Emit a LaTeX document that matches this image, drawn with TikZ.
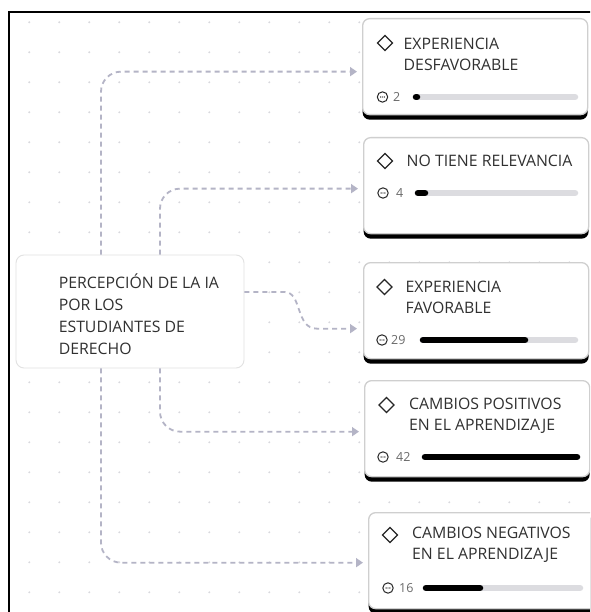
\documentclass[tikz,border=0pt]{standalone}
\usepackage{fontspec}
\setmainfont{Open Sans}
\usetikzlibrary{arrows.meta,calc,shadows}
\definecolor{connc}{HTML}{B4B4C6}
\definecolor{dotc}{HTML}{D9D9DE}
\definecolor{cardborder}{HTML}{CFCFCF}
\definecolor{rootborder}{HTML}{E2E2E2}
\definecolor{txtc}{HTML}{303030}
\definecolor{numc}{HTML}{6A6A6A}
\definecolor{trackc}{HTML}{DCDCE0}
\newcommand\carddiamond[2]{\draw[line width=1.3pt,color=black!85] (#1-7.5,#2) -- (#1,#2-7.5) -- (#1+7.5,#2) -- (#1,#2+7.5) -- cycle;}
\newcommand\progicon[2]{\draw[line width=1pt,color=black!85] (#1,#2) circle (5.2);
  \fill[black!85] (#1-1.9,#2) circle (0.7) (#1,#2) circle (0.7) (#1+1.9,#2) circle (0.7);}
\newcommand\progbar[4]{\draw[line width=6.5pt,line cap=round,color=trackc] (#1,#4) -- (#2,#4);
  \draw[line width=6.5pt,line cap=round,color=black] (#1,#4) -- (#3,#4);}
\begin{document}
\begin{tikzpicture}[x=1pt,y=-1pt,
  cardbox/.style={draw=cardborder,line width=1.3pt,fill=white,rounded corners=7pt,
    minimum width=225pt,minimum height=96pt,anchor=north west,inner sep=0pt,
    drop shadow={shadow xshift=0pt,shadow yshift=-5pt,fill=black,opacity=1}},
  rootbox/.style={draw=rootborder,line width=0.9pt,fill=white,rounded corners=8pt,
    minimum width=228pt,minimum height=113pt,inner sep=0pt},
  cardtext/.style={anchor=west,inner sep=0pt,align=left,text=txtc,
    font=\fontsize{15.8}{21}\selectfont},
  roottext/.style={anchor=west,inner sep=0pt,align=left,text=txtc,
    font=\fontsize{15.8}{22}\selectfont},
  numtext/.style={anchor=west,inner sep=0pt,text=numc,font=\fontsize{12.5}{14}\selectfont},
  connector/.style={draw=connc,line width=1.8pt,dash pattern=on 5pt off 4pt,
    -{Triangle[length=7pt,width=9pt]}}]
\useasboundingbox (0,0) rectangle (590,612);
\clip (0,0) rectangle (590,612);
\fill[white] (0,0) rectangle (590,612);
% dot grid
\foreach \i in {0,...,19}{\foreach \j in {0,...,19}{\fill[dotc] (29.3+30*\i,22.3+30*\j) circle (1.1);}}
% frame
\draw[line width=2pt] (9.3,613) -- (9.3,11.7) -- (591,11.7);
% root
\node[rootbox] (root) at (130,311.5) {};
\node[roottext] (rtxt) at (58.6,314.5) {PERCEPCIÓN DE LA IA\\POR LOS\\ESTUDIANTES DE\\DERECHO};
% cards
\node[cardbox] (c1) at (362,18) {};
\node[cardbox] (c2) at (363,137) {};
\node[cardbox] (c3) at (363,262) {};
\node[cardbox] (c4) at (364,380) {};
\node[cardbox,minimum width=232pt] (c5) at (368,512) {};
% card contents
\carddiamond{385}{43}
\node[cardtext] (t1) at (403.5,54) {EXPERIENCIA\\DESFAVORABLE};
\progicon{382.5}{97}
\node[numtext] (n1) at (393,97) {2};
\progbar{416}{575}{417}{97}

\carddiamond{385}{161}
\node[cardtext] (t2) at (406.5,161) {NO TIENE RELEVANCIA};
\progicon{383}{193}
\node[numtext] (n2) at (396,193) {4};
\progbar{418}{575}{425}{193}

\carddiamond{384.5}{287}
\node[cardtext] (t3) at (405.5,297) {EXPERIENCIA\\FAVORABLE};
\progicon{382}{340}
\node[numtext] (n3) at (391,340) {29};
\progbar{423}{575}{525}{340}

\carddiamond{386.5}{405}
\node[cardtext] (t4) at (409,415.5) {CAMBIOS POSITIVOS\\EN EL APRENDIZAJE};
\progicon{383}{457}
\node[numtext] (n4) at (396,457) {42};
\progbar{425}{577}{577}{457}

\carddiamond{390}{535}
\node[cardtext] (t5) at (412,545) {CAMBIOS NEGATIVOS\\EN EL APRENDIZAJE};
\progicon{388}{588}
\node[numtext] (n5) at (399,588) {16};
\progbar{426}{580}{480}{588}
% connectors
\draw[connector,rounded corners=20pt] ($(root.north)+(-29,0)$) |- ($(c1.west)+(-5,5)$);
\draw[connector,rounded corners=20pt] ($(root.north)+(30,0)$) |- ($(c2.west)+(-5,3)$);
\coordinate (s3) at ($(root.east)+(0,-19.5)$);
\coordinate (e3) at ($(c3.west)+(-6,18)$);
\draw[connector] (s3) -- ($(s3)+(40,0)$) .. controls ($(s3)+(58,0)$) and ($(e3)+(-62,0)$) .. ($(e3)+(-40,0)$) -- (e3);
\draw[connector,rounded corners=20pt] ($(root.south)+(30,0)$) |- ($(c4.west)+(-5,3)$);
\draw[connector,rounded corners=20pt] ($(root.south)+(-29,0)$) |- ($(c5.west)+(-5,2)$);
\end{tikzpicture}
\end{document}
